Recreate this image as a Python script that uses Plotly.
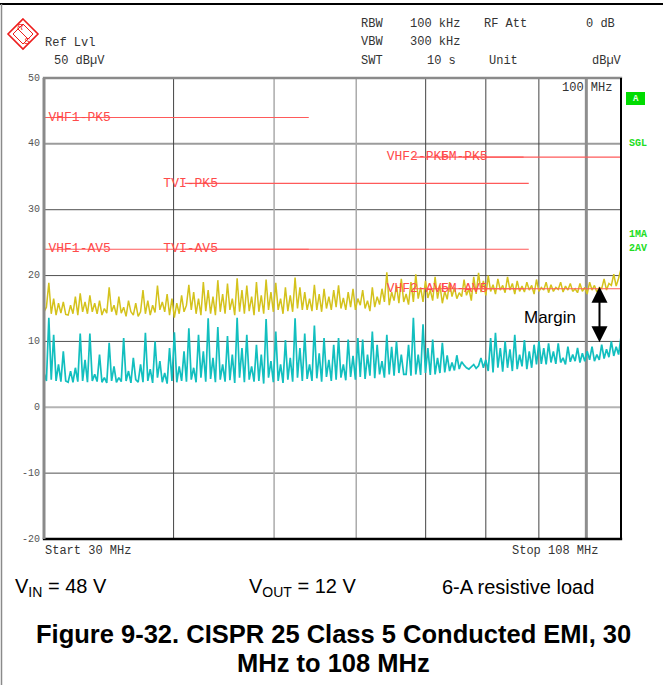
import numpy as np
import plotly.graph_objects as go

# ---------------- data ----------------
f_start_mhz = 30
f_stop_mhz = 108

# Peak detector trace (dBuV), sweep 30 -> 108 MHz (log sweep)
peak_dbuv = [
    14.5, 15.2, 18.9, 14.2, 16.5, 14.0, 15.8, 14.3, 16.0, 14.1,
    14.0, 15.5, 14.2, 16.8, 14.0, 17.3, 14.5, 16.0, 14.2, 17.0,
    14.5, 15.8, 14.2, 16.2, 14.0, 15.0, 14.3, 18.2, 14.5, 15.5,
    14.0, 16.8, 14.3, 15.2, 13.8, 16.2, 14.5, 14.0, 15.8, 13.8,
    14.5, 17.8, 14.2, 16.2, 14.0, 15.5, 14.4, 18.5, 14.8, 16.0,
    14.5, 17.2, 14.0, 16.5, 13.6, 15.8, 14.2, 17.0, 14.5, 15.5,
    18.6, 14.8, 17.5, 14.2, 16.5, 14.0, 19.0, 14.6, 17.8, 14.2,
    16.8, 14.0, 19.3, 14.5, 17.2, 14.2, 18.8, 14.8, 16.5, 14.0,
    19.6, 14.5, 17.8, 14.2, 18.5, 14.6, 16.8, 14.0, 19.0, 14.5,
    17.0, 14.2, 19.4, 14.8, 17.5, 14.5, 18.9, 14.8, 16.5, 14.2,
    18.2, 14.6, 17.0, 14.5, 19.7, 15.0, 18.2, 14.8, 17.5, 14.8,
    16.5, 14.6, 18.6, 14.8, 17.2, 14.5, 18.0, 15.0, 16.8, 14.8,
    17.8, 15.2, 18.5, 15.0, 16.6, 14.8, 17.5, 15.2, 18.0, 14.8,
    16.5, 15.5, 17.8, 15.0, 16.2, 14.6, 18.2, 15.2, 16.8, 15.6,
    18.0, 16.0, 20.5, 15.5, 17.5, 16.2, 18.5, 15.8, 19.5, 16.0,
    17.2, 15.6, 19.0, 16.0, 20.2, 16.5, 18.2, 16.0, 19.2, 16.6,
    17.8, 16.2, 19.8, 16.5, 18.5, 15.8, 17.6, 16.4, 19.0, 16.8,
    18.2, 16.5, 17.4, 16.8, 19.4, 17.0, 18.0, 16.2, 19.8, 17.2,
    20.4, 17.5, 19.2, 17.0, 20.0, 17.6, 18.6, 17.2, 19.5, 17.8,
    18.5, 17.4, 19.8, 17.8, 18.8, 17.2, 19.2, 17.6, 18.4, 17.5,
    19.0, 17.8, 18.5, 17.2, 19.4, 17.6, 18.2, 17.8, 19.0, 17.4,
    18.6, 17.6, 18.2, 17.9, 19.0, 17.5, 18.4, 17.8, 18.8, 17.6,
    18.0, 17.4, 18.8, 17.6, 18.2, 17.2, 19.0, 17.8, 18.5, 17.5,
    18.2, 18.0, 19.5, 17.8, 18.8, 18.5, 20.2, 18.4, 19.6, 21.0,
]

# Average detector trace (dBuV)
avg_dbuv = [
    5.2, 4.0, 13.6, 4.2, 11.0, 4.0, 6.5, 3.9, 8.5, 4.0,
    3.8, 5.5, 3.8, 6.0, 3.9, 11.2, 4.0, 7.2, 3.8, 11.2,
    4.0, 5.0, 3.9, 8.0, 3.8, 4.5, 3.7, 9.8, 4.0, 6.2,
    3.8, 4.5, 3.9, 10.5, 4.0, 5.5, 3.7, 7.5, 4.2, 3.8,
    6.5, 3.8, 11.3, 4.0, 5.8, 3.7, 10.0, 4.5, 7.0, 3.8,
    5.2, 3.6, 9.0, 4.0, 11.4, 3.8, 6.2, 4.0, 8.5, 3.9,
    12.0, 4.2, 6.0, 3.8, 11.0, 4.5, 8.5, 3.9, 13.5, 4.3,
    7.5, 3.8, 12.2, 4.2, 6.5, 3.9, 10.8, 4.1, 8.0, 3.7,
    13.6, 4.5, 9.0, 3.8, 11.0, 4.2, 6.2, 3.9, 9.5, 4.0,
    8.0, 3.6, 13.4, 4.5, 7.0, 3.8, 11.5, 4.0, 6.5, 3.7,
    10.2, 4.2, 7.5, 3.9, 13.5, 4.5, 9.0, 4.0, 11.2, 4.3,
    6.5, 4.0, 12.4, 4.4, 8.2, 3.9, 10.5, 4.6, 7.2, 4.0,
    9.5, 4.2, 10.5, 4.5, 6.5, 4.1, 10.3, 4.6, 7.8, 4.2,
    10.5, 4.6, 10.3, 4.3, 8.0, 4.8, 11.5, 4.4, 9.5, 5.0,
    7.0, 4.5, 11.0, 5.0, 9.2, 4.8, 10.0, 5.2, 8.0, 5.0,
    5.0, 9.5, 4.8, 13.6, 5.0, 8.0, 4.9, 12.6, 5.2, 9.0,
    4.9, 10.3, 5.0, 7.5, 5.2, 9.8, 5.3, 7.9, 5.5, 6.8,
    5.6, 7.9, 5.8, 6.9, 6.4, 6.0, 5.8, 6.2, 6.5, 5.9,
    6.3, 7.5, 6.0, 7.2, 5.5, 10.5, 5.3, 11.3, 6.0, 9.0,
    5.4, 10.0, 6.0, 8.8, 5.5, 11.0, 5.8, 8.0, 6.2, 10.2,
    5.8, 8.5, 6.0, 9.5, 6.5, 10.0, 6.6, 9.0, 6.5, 9.7,
    6.8, 8.5, 6.6, 9.7, 6.8, 7.5, 6.5, 9.2, 6.9, 8.0,
    7.0, 9.0, 6.8, 8.2, 7.0, 8.5, 7.2, 9.2, 7.0, 8.0,
    7.2, 9.5, 7.4, 8.8, 7.6, 10.0, 7.8, 9.2, 8.0, 10.7,
]

# CISPR 25 class 5 limit lines
limit_names = ["VHF1-PK5", "VHF1-AV5", "TVI-PK5", "TVI-AV5",
               "VHF2-PK5", "VHF2-AV5", "FM-PK5", "FM-AV5"]
limit_f_lo = [30, 30, 41, 41, 68, 68, 76, 76]
limit_f_hi = [54, 54, 88, 88, 87, 87, 108, 108]
limit_level = [44, 24, 34, 24, 38, 18, 38, 18]
label_f = [30.3, 30.3, 39.1, 39.1, 64.2, 64.2, 72.4, 72.4]

y_ticks = [50, 40, 30, 20, 10, 0, -10, -20]
x_grid_mhz = [40, 50, 60, 70, 80, 90, 100]

# ---------------- figure ----------------
W, H = 663, 685
L, R, T, B = 44, 621, 78, 539


def X(px):
    return (px - L) / (R - L)


def Y(py):
    return (B - py) / (B - T)


def fx(f):
    return (np.log10(f) - np.log10(f_start_mhz)) / (np.log10(f_stop_mhz) - np.log10(f_start_mhz))


freq = np.geomspace(f_start_mhz, f_stop_mhz, len(peak_dbuv))
freq_av = np.geomspace(f_start_mhz, f_stop_mhz, len(avg_dbuv))

fig = go.Figure()

fig.add_trace(go.Scatter(x=freq, y=peak_dbuv, mode="lines",
                         line=dict(color="#d4c21c", width=1.5), hoverinfo="skip"))
fig.add_trace(go.Scatter(x=freq_av, y=avg_dbuv, mode="lines",
                         line=dict(color="#12bfbf", width=1.7), hoverinfo="skip"))

for name, lo, hi, lv in zip(limit_names, limit_f_lo, limit_f_hi, limit_level):
    fig.add_trace(go.Scatter(x=[lo, hi], y=[lv, lv], mode="lines",
                             line=dict(color="#ff5a5a", width=1.2), hoverinfo="skip"))
for name, lf, lv in zip(limit_names, label_f, limit_level):
    fig.add_trace(go.Scatter(x=[lf], y=[lv], mode="text", text=[name],
                             textposition="middle right",
                             textfont=dict(family="Liberation Mono", size=13, color="#ff4a4a"),
                             hoverinfo="skip"))

shapes = []
# horizontal grid
for v in y_ticks[1:-1]:
    if v == 40:
        col, w = "#9c9c9c", 2
    elif v == 0:
        col, w = "#b4b4b4", 2
    else:
        col, w = "#505050", 1
    shapes.append(dict(type="line", xref="paper", yref="y", x0=0, x1=1, y0=v, y1=v,
                       line=dict(color=col, width=w), layer="below"))
# vertical grid
for f in x_grid_mhz:
    if f in (50, 60):
        col, w = "#ababab", 1.5
    elif f == 100:
        col, w = "#8e8e8e", 3
    else:
        col, w = "#444444", 1
    shapes.append(dict(type="line", xref="paper", yref="paper", x0=fx(f), x1=fx(f), y0=0, y1=1,
                       line=dict(color=col, width=w), layer="below"))
# frame of the diagram
shapes += [
    dict(type="line", xref="paper", yref="paper", x0=-0.002, x1=1.002, y0=1, y1=1,
         line=dict(color="#8a8a8a", width=2.5)),
    dict(type="line", xref="paper", yref="paper", x0=-0.002, x1=1.002, y0=0, y1=0,
         line=dict(color="#000000", width=2.5)),
    dict(type="line", xref="paper", yref="paper", x0=0, x1=0, y0=0, y1=1,
         line=dict(color="#8a8a8a", width=3)),
    dict(type="line", xref="paper", yref="paper", x0=1, x1=1, y0=0, y1=1,
         line=dict(color="#000000", width=2)),
    # page frame
    dict(type="line", xref="paper", yref="paper", x0=X(0), x1=X(663), y0=Y(4), y1=Y(4),
         line=dict(color="#000000", width=2)),
    dict(type="line", xref="paper", yref="paper", x0=X(1.5), x1=X(1.5), y0=Y(4), y1=Y(685),
         line=dict(color="#8a8a8a", width=1.5)),
    # green "A" box
    dict(type="rect", xref="paper", yref="paper", x0=X(626), x1=X(645), y0=Y(105), y1=Y(92),
         fillcolor="#00dc00", line=dict(width=0)),
]
# R&S logo
cx, cy, s = 23, 34, 15
shapes.append(dict(type="path", xref="paper", yref="paper",
                   path=f"M {X(cx)} {Y(cy - s)} L {X(cx + s)} {Y(cy)} L {X(cx)} {Y(cy + s)} L {X(cx - s)} {Y(cy)} Z",
                   line=dict(color="#ee1c1c", width=1.6)))
s2 = 10
shapes.append(dict(type="path", xref="paper", yref="paper",
                   path=f"M {X(cx)} {Y(cy - s2)} L {X(cx + s2)} {Y(cy)} L {X(cx)} {Y(cy + s2)} L {X(cx - s2)} {Y(cy)} Z",
                   line=dict(color="#ee1c1c", width=1)))
shapes.append(dict(type="line", xref="paper", yref="paper",
                   x0=X(cx - 5), y0=Y(cy - 5), x1=X(cx + 5), y1=Y(cy + 5),
                   line=dict(color="#ee1c1c", width=1)))

ann = []
mono = "Liberation Mono"
hdr = dict(family=mono, size=12, color="#333333")


def txt(x, y, t, font, xa="left", ya="middle"):
    ann.append(dict(x=X(x), y=Y(y), xref="paper", yref="paper", text=t, showarrow=False,
                    xanchor=xa, yanchor=ya, font=font))


txt(43, 43, "Ref Lvl", hdr)
txt(52, 61, "50 dBµV", hdr)
txt(359, 24, "RBW", hdr)
txt(408, 24, "100 kHz", hdr)
txt(482, 24, "RF Att", hdr)
txt(584, 24, "0 dB", hdr)
txt(359, 42, "VBW", hdr)
txt(408, 42, "300 kHz", hdr)
txt(359, 61, "SWT", hdr)
txt(425, 61, "10 s", hdr)
txt(487, 61, "Unit", hdr)
txt(590, 61, "dBµV", hdr)
txt(560, 88, "100 MHz", hdr)
txt(43, 551, "Start 30 MHz", hdr)
txt(510, 551, "Stop 108 MHz", hdr)

# R&S letters
txt(20, 27, "<i>R</i>", dict(family="Liberation Sans", size=9, color="#ee1c1c"), xa="center")
txt(27, 41, "<i>S</i>", dict(family="Liberation Sans", size=9, color="#ee1c1c"), xa="center")

tickf = dict(family=mono, size=10, color="#555555")
for v in y_ticks:
    ann.append(dict(x=0, y=v, xref="paper", yref="y", text=str(v), showarrow=False,
                    xanchor="right", yanchor="middle", xshift=-2, font=tickf))

grn = dict(family=mono, size=10, color="#22dd22")
txt(635.5, 98.5, "<b>A</b>", dict(family=mono, size=9, color="#e8ffe8"), xa="center")
txt(627, 143, "<b>SGL</b>", grn)
txt(627, 234, "<b>1MA</b>", grn)
txt(627, 249, "<b>2AV</b>", grn)

# Margin arrow and label
ann.append(dict(x=X(599.5), y=18.3, xref="paper", yref="y", ax=0, ay=57, axref="pixel", ayref="pixel",
                text="", showarrow=True, arrowside="end+start", arrowhead=2, arrowsize=1.6,
                arrowwidth=2, arrowcolor="#000000"))
txt(550, 317, "Margin", dict(family="Liberation Sans", size=17, color="#000000"), xa="center")

body = dict(family="Liberation Sans", size=20, color="#000000")
txt(13, 587, "V<sub>IN</sub> = 48 V", body)
txt(247, 587, "V<sub>OUT</sub> = 12 V", body)
txt(440, 587, "6-A resistive load", body)
cap = dict(family="Liberation Sans", size=25.5, color="#000000")
txt(333, 634, "<b>Figure 9-32. CISPR 25 Class 5 Conducted EMI, 30</b>", cap, xa="center")
txt(333, 663, "<b>MHz to 108 MHz</b>", cap, xa="center")

fig.update_layout(
    width=W, height=H,
    margin=dict(l=L, r=W - R, t=T, b=H - B),
    plot_bgcolor="white", paper_bgcolor="white",
    showlegend=False,
    xaxis=dict(type="log", range=[np.log10(f_start_mhz), np.log10(f_stop_mhz)],
               showgrid=False, zeroline=False, showticklabels=False, showline=False, ticks=""),
    yaxis=dict(range=[-20, 50], showgrid=False, zeroline=False, showticklabels=False,
               showline=False, ticks=""),
    shapes=shapes,
    annotations=ann,
)

fig.write_html(
    "out.html",
    config={"displayModeBar": False},
    post_script="document.body.style.margin='0';document.body.style.overflow='hidden';",
)
